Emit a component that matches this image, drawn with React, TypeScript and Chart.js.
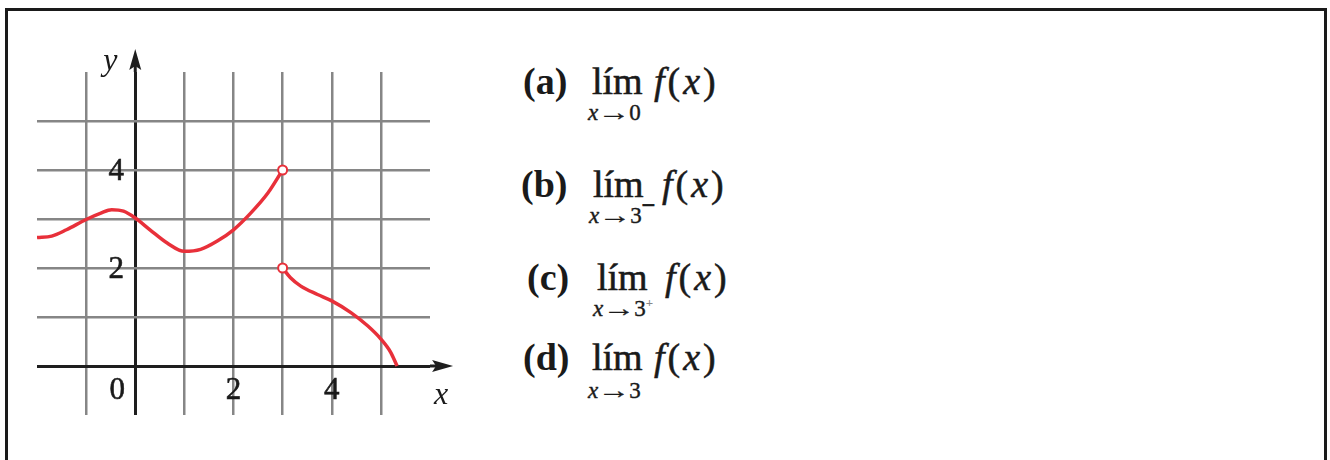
import React, { useEffect, useRef } from "react";
import { Chart, registerables } from "chart.js";

Chart.register(...registerables);

// ---- data ----
const leftPieceX = [-2, -1.7, -1.4, -1, -0.7, -0.48, -0.24, 0, 0.3, 0.65, 1, 1.33, 1.67, 2, 2.35, 2.7, 3];
const leftPieceY = [2.62, 2.65, 2.78, 2.99, 3.12, 3.19, 3.16, 3.02, 2.78, 2.51, 2.34, 2.38, 2.55, 2.78, 3.12, 3.53, 4.0];
const rightPieceX = [3, 3.16, 3.37, 3.71, 4, 4.39, 4.73, 5, 5.2, 5.33];
const rightPieceY = [2.0, 1.8, 1.63, 1.46, 1.33, 1.09, 0.82, 0.55, 0.28, 0.0];
const xTickValues = [0, 2, 4];
const xTickLabels = ["0", "2", "4"];
const yTickValues = [2, 4];
const yTickLabels = ["2", "4"];
const itemLetters = ["(a)", "(b)", "(c)", "(d)"];
const itemTargets = ["0", "3", "3", "3"];
const itemSides = ["", "−", "+", ""];

const X_MIN = -2;
const X_MAX = 6;
const Y_MIN = -1;
const Y_MAX = 6;
const ARROW_TIP = 6.47;

const RED = "#e8303a";
const GRID = "#868686";
const AXIS = "#1e1e1e";
const TEXT = "#1a1a1a";
const SERIF = '"Liberation Serif", "DejaVu Serif", serif';

// layout of the text rows (pixels)
const rowLayout = [
  { labelLeft: 523, limLeft: 592, fLeft: 654, base: 94, sub: 112 },
  { labelLeft: 521, limLeft: 593, fLeft: 662, base: 197, sub: 215 },
  { labelLeft: 527, limLeft: 597, fLeft: 665, base: 290, sub: 308 },
  { labelLeft: 523, limLeft: 592, fLeft: 654, base: 370, sub: 390 },
];

const axisPlugin = {
  id: "axisDecor",
  afterDraw(chart: any) {
    const { ctx, scales } = chart;
    const xs = scales.x;
    const ys = scales.y;
    const x0 = xs.getPixelForValue(0);
    const y0 = ys.getPixelForValue(0);
    ctx.save();
    ctx.strokeStyle = AXIS;
    ctx.fillStyle = AXIS;
    ctx.lineWidth = 3;
    // y axis extension + arrow
    const yTop = ys.getPixelForValue(ARROW_TIP);
    ctx.beginPath();
    ctx.moveTo(x0, ys.getPixelForValue(Y_MAX));
    ctx.lineTo(x0, yTop + 10);
    ctx.stroke();
    ctx.beginPath();
    ctx.moveTo(x0, yTop);
    ctx.lineTo(x0 + 6, yTop + 21);
    ctx.lineTo(x0, yTop + 17);
    ctx.lineTo(x0 - 6, yTop + 21);
    ctx.closePath();
    ctx.fill();
    // x axis extension + arrow
    const xRight = xs.getPixelForValue(ARROW_TIP);
    ctx.beginPath();
    ctx.moveTo(xs.getPixelForValue(X_MAX), y0);
    ctx.lineTo(xRight - 10, y0);
    ctx.stroke();
    ctx.beginPath();
    ctx.moveTo(xRight, y0);
    ctx.lineTo(xRight - 21, y0 - 6);
    ctx.lineTo(xRight - 17, y0);
    ctx.lineTo(xRight - 21, y0 + 6);
    ctx.closePath();
    ctx.fill();

    // tick labels
    ctx.fillStyle = TEXT;
    ctx.font = `31px ${SERIF}`;
    ctx.textAlign = "center";
    ctx.textBaseline = "middle";
    ctx.lineWidth = 0.6;
    ctx.strokeStyle = TEXT;
    xTickValues.forEach((v, i) => {
      const px = xs.getPixelForValue(v) + (v === 0 ? -18 : 0);
      ctx.fillText(xTickLabels[i], px, y0 + 25);
      ctx.strokeText(xTickLabels[i], px, y0 + 25);
    });
    yTickValues.forEach((v, i) => {
      const py = ys.getPixelForValue(v) + 2;
      ctx.fillText(yTickLabels[i], x0 - 19, py);
      ctx.strokeText(yTickLabels[i], x0 - 19, py);
    });
    // axis names
    ctx.font = `italic 32px ${SERIF}`;
    ctx.fillText("y", x0 - 25, yTop + 13);
    ctx.fillText("x", xRight - 12, y0 + 30);
    ctx.restore();
  },
};

function GraphCanvas() {
  const ref = useRef<HTMLCanvasElement | null>(null);
  useEffect(() => {
    if (!ref.current) return;
    const gridColor = (c: any, min: number, max: number) => {
      const v = c.tick ? c.tick.value : null;
      if (v === 0) return AXIS;
      if (v === min || v === max) return "rgba(0,0,0,0)";
      return GRID;
    };
    const gridWidth = (c: any) => (c.tick && c.tick.value === 0 ? 3 : 2.5);
    const lineStyle = {
      showLine: true,
      borderColor: RED,
      borderWidth: 3.5,
      cubicInterpolationMode: "monotone" as const,
      pointBackgroundColor: "#ffffff",
      pointBorderColor: RED,
      pointBorderWidth: 2,
    };
    const chart = new Chart(ref.current, {
      type: "scatter",
      data: {
        datasets: [
          {
            ...lineStyle,
            data: leftPieceX.map((x, i) => ({ x, y: leftPieceY[i] })),
            pointRadius: leftPieceX.map((_, i) => (i === leftPieceX.length - 1 ? 4.5 : 0)),
          },
          {
            ...lineStyle,
            data: rightPieceX.map((x, i) => ({ x, y: rightPieceY[i] })),
            pointRadius: rightPieceX.map((_, i) => (i === 0 ? 4.5 : 0)),
          },
        ],
      },
      options: {
        animation: false,
        responsive: false,
        maintainAspectRatio: false,
        layout: { padding: { left: 37, right: 50, top: 72, bottom: 45 } },
        plugins: { legend: { display: false }, tooltip: { enabled: false } },
        events: [],
        scales: {
          x: {
            type: "linear",
            min: X_MIN,
            max: X_MAX,
            ticks: { display: false, stepSize: 1 },
            border: { display: false },
            grid: {
              drawTicks: false,
              color: (c: any) => gridColor(c, X_MIN, X_MAX),
              lineWidth: gridWidth,
            },
          },
          y: {
            type: "linear",
            min: Y_MIN,
            max: Y_MAX,
            ticks: { display: false, stepSize: 1 },
            border: { display: false },
            grid: {
              drawTicks: false,
              color: (c: any) => gridColor(c, Y_MIN, Y_MAX),
              lineWidth: gridWidth,
            },
          },
        },
      },
      plugins: [axisPlugin],
    });
    return () => chart.destroy();
  }, []);
  return (
    <canvas
      ref={ref}
      width={480}
      height={460}
      style={{ position: "absolute", left: 0, top: 0, width: 480, height: 460 }}
    />
  );
}

function LimitRow({ i }: { i: number }) {
  const L = rowLayout[i];
  const big = 38;
  const small = 23;
  const bigTop = L.base - Math.round(big * 0.8375);
  const smallTop = L.sub - small / 2;
  const side = itemSides[i];
  return (
    <>
      <span
        style={{
          position: "absolute",
          left: L.labelLeft,
          top: bigTop,
          fontSize: big,
          lineHeight: `${big}px`,
          fontWeight: "bold",
          whiteSpace: "nowrap",
        }}
      >
        {itemLetters[i]}
      </span>
      <span
        style={{
          position: "absolute",
          left: L.limLeft,
          top: bigTop,
          fontSize: big,
          lineHeight: `${big}px`,
          whiteSpace: "nowrap",
          WebkitTextStroke: "0.6px #1a1a1a",
        }}
      >
        lím
      </span>
      <span
        style={{
          position: "absolute",
          left: L.limLeft - 4,
          top: smallTop,
          fontSize: small,
          lineHeight: `${small}px`,
          whiteSpace: "nowrap",
          WebkitTextStroke: "0.4px #1a1a1a",
        }}
      >
        <i>x</i>
        <span style={{ display: "inline-block", transform: "scaleX(1.4)", margin: "0 4px" }}>→</span>
        {itemTargets[i]}
        {side ? (
          <span
            style={{
              fontSize: side === "+" ? 13 : 24,
              position: "relative",
              top: side === "+" ? -9 : -10,
              fontWeight: "bold",
              color: side === "+" ? "#888" : TEXT,
              WebkitTextStroke: side === "+" ? "0px" : "0.8px #1a1a1a",
            }}
          >
            {side}
          </span>
        ) : null}
      </span>
      <span
        style={{
          position: "absolute",
          left: L.fLeft,
          top: bigTop,
          fontSize: big,
          lineHeight: `${big}px`,
          whiteSpace: "nowrap",
          letterSpacing: 3,
          WebkitTextStroke: "0.5px #1a1a1a",
        }}
      >
        <i>f</i>(<i>x</i>)
      </span>
    </>
  );
}

export default function App() {
  return (
    <div
      style={{
        position: "fixed",
        left: 0,
        top: 0,
        width: 1330,
        height: 460,
        overflow: "hidden",
        background: "#ffffff",
        fontFamily: SERIF,
        color: TEXT,
      }}
    >
      <div
        style={{
          position: "absolute",
          left: 5,
          top: 8,
          width: 1322,
          height: 470,
          boxSizing: "border-box",
          borderTop: "3px solid #1a1a1a",
          borderLeft: "3px solid #1a1a1a",
          borderRight: "3px solid #1a1a1a",
        }}
      />
      <GraphCanvas />
      {itemLetters.map((_, i) => (
        <LimitRow key={i} i={i} />
      ))}
    </div>
  );
}
